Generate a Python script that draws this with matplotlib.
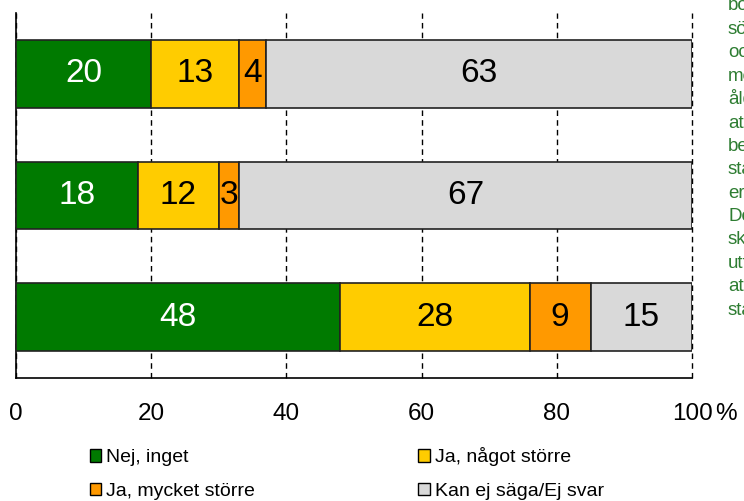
import matplotlib.pyplot as plt
from matplotlib.patches import Patch

# data
groups = ['A', 'B', 'C']
series = ['Nej, inget', 'Ja, något större', 'Ja, mycket större', 'Kan ej säga/Ej svar']
values = [
    [20, 18, 48],   # Nej, inget
    [13, 12, 28],   # Ja, något större
    [4, 3, 9],      # Ja, mycket större
    [63, 67, 15],   # Kan ej säga/Ej svar
]
colors = ['#007A00', '#FFCC00', '#FF9900', '#D9D9D9']
text_colors = ['white', 'black', 'black', 'black']
xticks = [0, 20, 40, 60, 80, 100]
side_text = ['bos', 'söd', 'och', 'me', 'åld', 'att', 'bes', 'sta', 'ers', 'De', 'ska', 'utf', 'att', 'sta']

plt.rcParams['font.family'] = ['Liberation Sans', 'DejaVu Sans']

fig = plt.figure(figsize=(7.44, 5.01), dpi=100)
ax = fig.add_axes([16 / 744, 123 / 501, 676 / 744, 365 / 501])

pos = list(range(len(groups)))
left = [0] * len(groups)
for vals, col, tc, name in zip(values, colors, text_colors, series):
    ax.barh(pos, vals, left=left, height=0.557, color=col, edgecolor='#222222',
            linewidth=1.2, label=name, zorder=3)
    for p, v, l in zip(pos, vals, left):
        ax.text(l + v / 2, p, str(v), ha='center', va='center', fontsize=24,
                color=tc, zorder=4)
    left = [a + b for a, b in zip(left, vals)]

ax.set_xlim(0, 100)
ax.set_ylim(2.5, -0.5)
ax.set_yticks([])
ax.set_xticks(xticks)
ax.set_xticklabels([str(t) for t in xticks], fontsize=17.5)
ax.tick_params(axis='x', length=0, pad=18)
ax.annotate('%', xy=(103.4, 0), xycoords=ax.get_xaxis_transform(), xytext=(0, -18),
            textcoords='offset points', fontsize=17.5, ha='left', va='top',
            annotation_clip=False)
ax.xaxis.grid(True, linestyle=(0, (4, 3)), color='black', linewidth=1, zorder=0)
for gl in ax.get_xgridlines():
    gl.set_clip_on(False)
for s in ['top', 'right']:
    ax.spines[s].set_visible(False)
ax.spines['left'].set_linewidth(1.2)
ax.spines['bottom'].set_linewidth(1.2)

# side text, cut off by the right edge as in the source
for i, t in enumerate(side_text):
    fig.text(728 / 744, 1 - (6 + i * 23.4) / 501, t, fontsize=13.5, color='#2E7D32',
             ha='left', va='center')

order = [0, 2, 1, 3]
handles = [Patch(facecolor=colors[i], edgecolor='black', linewidth=1) for i in order]
labels = [series[i] for i in order]
fig.legend(handles, labels, ncol=2, loc='upper left', bbox_to_anchor=(72 / 744, 1 - 430 / 501),
           frameon=False, prop={'size': 14}, handlelength=0.6,
           handleheight=0.6, handletextpad=0.25, columnspacing=8.4, labelspacing=0.85)

fig.savefig('out.png', dpi=100)
